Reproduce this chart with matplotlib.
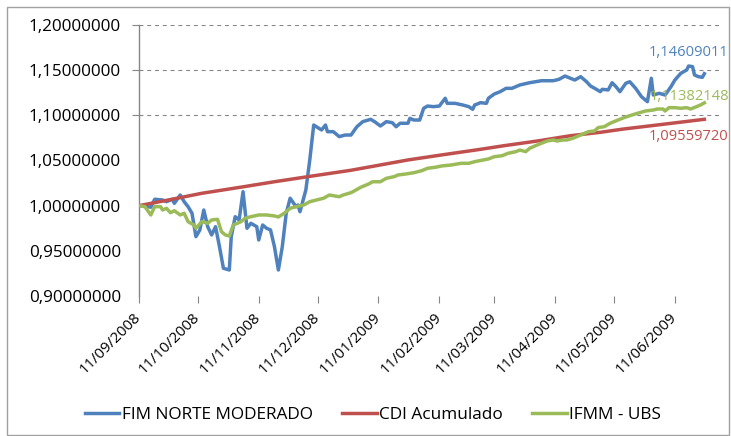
import pandas as pd
import matplotlib
matplotlib.use("Agg")
import matplotlib.pyplot as plt
from matplotlib.patches import Rectangle

plt.rcParams["font.family"] = ["Open Sans", "DejaVu Sans"]

# FIM NORTE MODERADO (fund quota, rebased to 1)
fim_dates = [
    "2008-09-11", "2008-09-14", "2008-09-17", "2008-09-19", "2008-09-23", "2008-09-25",
    "2008-09-28", "2008-09-29", "2008-10-02", "2008-10-04", "2008-10-06", "2008-10-08",
    "2008-10-10", "2008-10-12", "2008-10-14", "2008-10-16", "2008-10-18", "2008-10-20",
    "2008-10-22", "2008-10-24", "2008-10-27", "2008-10-28", "2008-10-30", "2008-11-01",
    "2008-11-03", "2008-11-05", "2008-11-07", "2008-11-10", "2008-11-11", "2008-11-13",
    "2008-11-15", "2008-11-17", "2008-11-19", "2008-11-21", "2008-11-23", "2008-11-25",
    "2008-11-27", "2008-11-30", "2008-12-01", "2008-12-02", "2008-12-05", "2008-12-07",
    "2008-12-09", "2008-12-11", "2008-12-13", "2008-12-15", "2008-12-16", "2008-12-19",
    "2008-12-22", "2008-12-25", "2008-12-28", "2008-12-31", "2009-01-03", "2009-01-07",
    "2009-01-09", "2009-01-12", "2009-01-15", "2009-01-18", "2009-01-20", "2009-01-22",
    "2009-01-26", "2009-01-27", "2009-01-29", "2009-02-01", "2009-02-03", "2009-02-05",
    "2009-02-08", "2009-02-11", "2009-02-14", "2009-02-15", "2009-02-19", "2009-02-23",
    "2009-02-26", "2009-02-28", "2009-03-01", "2009-03-04", "2009-03-07", "2009-03-08",
    "2009-03-11", "2009-03-14", "2009-03-17", "2009-03-20", "2009-03-24", "2009-03-29",
    "2009-04-04", "2009-04-10", "2009-04-13", "2009-04-16", "2009-04-21", "2009-04-24",
    "2009-04-27", "2009-04-29", "2009-05-02", "2009-05-04", "2009-05-05", "2009-05-08",
    "2009-05-10", "2009-05-12", "2009-05-14", "2009-05-17", "2009-05-19", "2009-05-22",
    "2009-05-25", "2009-05-28", "2009-05-30", "2009-05-31", "2009-06-03", "2009-06-06",
    "2009-06-09", "2009-06-11", "2009-06-14", "2009-06-17", "2009-06-18", "2009-06-20",
    "2009-06-21", "2009-06-23", "2009-06-25", "2009-06-26",
]
fim_values = [
    1.0000, 0.9997, 0.9982, 1.0071, 1.0063, 1.0044,
    1.0071, 1.0026, 1.0118, 1.0044, 0.9989, 0.9916,
    0.9657, 0.9731, 0.9952, 0.9767, 0.9676, 0.9767,
    0.9546, 0.9307, 0.9288, 0.9657, 0.9878, 0.9842,
    1.0155, 0.9750, 0.9805, 0.9767, 0.9620, 0.9786,
    0.9750, 0.9731, 0.9546, 0.9288, 0.9546, 0.9916,
    1.0082, 0.9989, 1.0008, 0.9933, 1.0174, 1.0506,
    1.0893, 1.0865, 1.0838, 1.0893, 1.0819, 1.0819,
    1.0764, 1.0782, 1.0782, 1.0874, 1.0930, 1.0956,
    1.0930, 1.0882, 1.0930, 1.0919, 1.0874, 1.0912,
    1.0912, 1.0967, 1.0948, 1.0948, 1.1078, 1.1103,
    1.1096, 1.1103, 1.1189, 1.1133, 1.1133, 1.1114,
    1.1096, 1.1067, 1.1114, 1.1140, 1.1133, 1.1189,
    1.1236, 1.1262, 1.1299, 1.1299, 1.1336, 1.1361,
    1.1383, 1.1383, 1.1399, 1.1435, 1.1391, 1.1428,
    1.1372, 1.1325, 1.1288, 1.1262, 1.1288, 1.1281,
    1.1361, 1.1317, 1.1262, 1.1355, 1.1372, 1.1299,
    1.1206, 1.1151, 1.1410, 1.1225, 1.1244, 1.1225,
    1.1317, 1.1391, 1.1465, 1.1502, 1.1546, 1.1539,
    1.1447, 1.1428, 1.1421, 1.14609011,
]

# CDI Acumulado
cdi_dates = [
    "2008-09-11", "2008-09-26", "2008-10-13", "2008-11-04", "2008-11-19", "2008-12-06",
    "2008-12-28", "2009-01-09", "2009-01-26", "2009-02-12", "2009-03-04", "2009-03-16",
    "2009-04-02", "2009-04-19", "2009-05-04", "2009-05-16", "2009-06-02", "2009-06-26",
]
cdi_values = [
    1.0000, 1.0063, 1.0137, 1.0212, 1.0265, 1.0321,
    1.0392, 1.0439, 1.0506, 1.0561, 1.0624, 1.0664,
    1.0716, 1.0775, 1.0812, 1.0849, 1.0893, 1.09559720,
]

# IFMM - UBS
ifmm_dates = [
    "2008-09-11", "2008-09-14", "2008-09-17", "2008-09-19", "2008-09-22", "2008-09-23",
    "2008-09-25", "2008-09-27", "2008-09-29", "2008-10-02", "2008-10-04", "2008-10-06",
    "2008-10-09", "2008-10-10", "2008-10-13", "2008-10-16", "2008-10-18", "2008-10-21",
    "2008-10-23", "2008-10-25", "2008-10-27", "2008-10-29", "2008-11-02", "2008-11-04",
    "2008-11-07", "2008-11-11", "2008-11-15", "2008-11-19", "2008-11-21", "2008-11-24",
    "2008-11-27", "2008-11-30", "2008-12-04", "2008-12-07", "2008-12-11", "2008-12-14",
    "2008-12-17", "2008-12-22", "2008-12-24", "2008-12-28", "2008-12-29", "2009-01-02",
    "2009-01-06", "2009-01-08", "2009-01-12", "2009-01-15", "2009-01-19", "2009-01-21",
    "2009-01-25", "2009-01-29", "2009-02-02", "2009-02-05", "2009-02-09", "2009-02-12",
    "2009-02-17", "2009-02-22", "2009-02-26", "2009-03-01", "2009-03-04", "2009-03-08",
    "2009-03-11", "2009-03-15", "2009-03-18", "2009-03-22", "2009-03-24", "2009-03-27",
    "2009-03-29", "2009-04-01", "2009-04-04", "2009-04-07", "2009-04-10", "2009-04-12",
    "2009-04-15", "2009-04-17", "2009-04-20", "2009-04-22", "2009-04-26", "2009-04-28",
    "2009-05-01", "2009-05-03", "2009-05-06", "2009-05-09", "2009-05-13", "2009-05-16",
    "2009-05-19", "2009-05-23", "2009-05-27", "2009-05-31", "2009-06-02", "2009-06-05",
    "2009-06-06", "2009-06-08", "2009-06-11", "2009-06-14", "2009-06-17", "2009-06-19",
    "2009-06-22", "2009-06-24", "2009-06-26",
]
ifmm_values = [
    1.0000, 0.9989, 0.9897, 0.9989, 0.9989, 0.9952,
    0.9971, 0.9922, 0.9944, 0.9897, 0.9916, 0.9823,
    0.9786, 0.9750, 0.9823, 0.9805, 0.9842, 0.9849,
    0.9712, 0.9676, 0.9664, 0.9786, 0.9823, 0.9860,
    0.9878, 0.9897, 0.9897, 0.9886, 0.9875, 0.9916,
    0.9971, 0.9989, 1.0008, 1.0044, 1.0066, 1.0082,
    1.0118, 1.0099, 1.0118, 1.0144, 1.0155, 1.0204,
    1.0240, 1.0265, 1.0265, 1.0303, 1.0321, 1.0340,
    1.0351, 1.0365, 1.0387, 1.0414, 1.0425, 1.0439,
    1.0450, 1.0469, 1.0469, 1.0487, 1.0500, 1.0517,
    1.0542, 1.0553, 1.0580, 1.0598, 1.0616, 1.0598,
    1.0635, 1.0664, 1.0691, 1.0716, 1.0727, 1.0716,
    1.0727, 1.0727, 1.0746, 1.0764, 1.0801, 1.0819,
    1.0827, 1.0865, 1.0874, 1.0912, 1.0948, 1.0974,
    1.0996, 1.1023, 1.1048, 1.1059, 1.1070, 1.1070,
    1.1048, 1.1085, 1.1085, 1.1078, 1.1085, 1.1070,
    1.1096, 1.1114, 1.11382148,
]

tick_dates = ["11/09/2008", "11/10/2008", "11/11/2008", "11/12/2008", "11/01/2009",
              "11/02/2009", "11/03/2009", "11/04/2009", "11/05/2009", "11/06/2009"]
y_ticks = [0.90, 0.95, 1.00, 1.05, 1.10, 1.15, 1.20]
grid_levels = [1.10, 1.15, 1.20]

BLUE = "#4F81BD"
RED = "#C0504D"
GREEN = "#9BBB59"
GREY = "#868686"

W, H = 731, 436
fig = plt.figure(figsize=(W / 100, H / 100), dpi=100)
ax = fig.add_axes([139 / W, 1 - 296 / H, (722 - 139) / W, (296 - 25) / H])

x_start = pd.Timestamp("2008-09-11")
x_end = pd.Timestamp("2009-07-05")

for lvl in grid_levels:
    ax.plot([x_start, x_end], [lvl, lvl], color=GREY, lw=0.8,
            linestyle=(0, (3.5, 3.5)), zorder=1)

series = [
    ("FIM NORTE MODERADO", fim_dates, fim_values, BLUE),
    ("CDI Acumulado", cdi_dates, cdi_values, RED),
    ("IFMM - UBS", ifmm_dates, ifmm_values, GREEN),
]
for name, dates, vals, col in series:
    ax.plot(pd.to_datetime(dates), vals, color=col, lw=2.5, label=name,
            solid_joinstyle="round", zorder=3)

# data labels on the last point
label_offsets = {BLUE: (-16, 21), GREEN: (-15, 6), RED: (-16, -17)}
for name, dates, vals, col in series:
    ax.annotate(f"{vals[-1]:.8f}".replace(".", ","),
                xy=(pd.Timestamp(dates[-1]), vals[-1]),
                xytext=label_offsets[col], textcoords="offset pixels",
                ha="center", va="center", color=col, fontsize=10.6, zorder=4,
                annotation_clip=False)

ax.set_xlim(x_start, x_end)
ax.set_ylim(0.90, 1.20)

ax.set_yticks(y_ticks)
ax.set_yticklabels([f"{v:.8f}".replace(".", ",") for v in y_ticks], fontsize=12.3)
ax.tick_params(axis="y", length=5, color=GREY, pad=8)
for tick, v in zip(ax.yaxis.get_major_ticks(), y_ticks):
    if v < 1.10:
        tick.tick1line.set_visible(False)

ax.set_xticks(pd.to_datetime(tick_dates, format="%d/%m/%Y"))
ax.set_xticklabels(tick_dates, rotation=45, ha="right", va="center",
                   rotation_mode="anchor", fontsize=10.8)
ax.tick_params(axis="x", length=5, color=GREY, pad=9)

for side in ["top", "right", "bottom"]:
    ax.spines[side].set_visible(False)
ax.spines["left"].set_color(GREY)
ax.spines["left"].set_linewidth(1)

fig.legend(loc="center", bbox_to_anchor=(373 / W, 1 - 415 / H), ncol=3,
           frameon=False, fontsize=12.4, handlelength=2.0, handletextpad=0.15,
           columnspacing=1.7)

# chart border
fig.patches.append(Rectangle((7 / W, 1 / H), (W - 9) / W, (H - 8) / H,
                             transform=fig.transFigure, fill=False,
                             edgecolor="#A0A0A0", lw=1))

fig.savefig("out.png", dpi=100)
